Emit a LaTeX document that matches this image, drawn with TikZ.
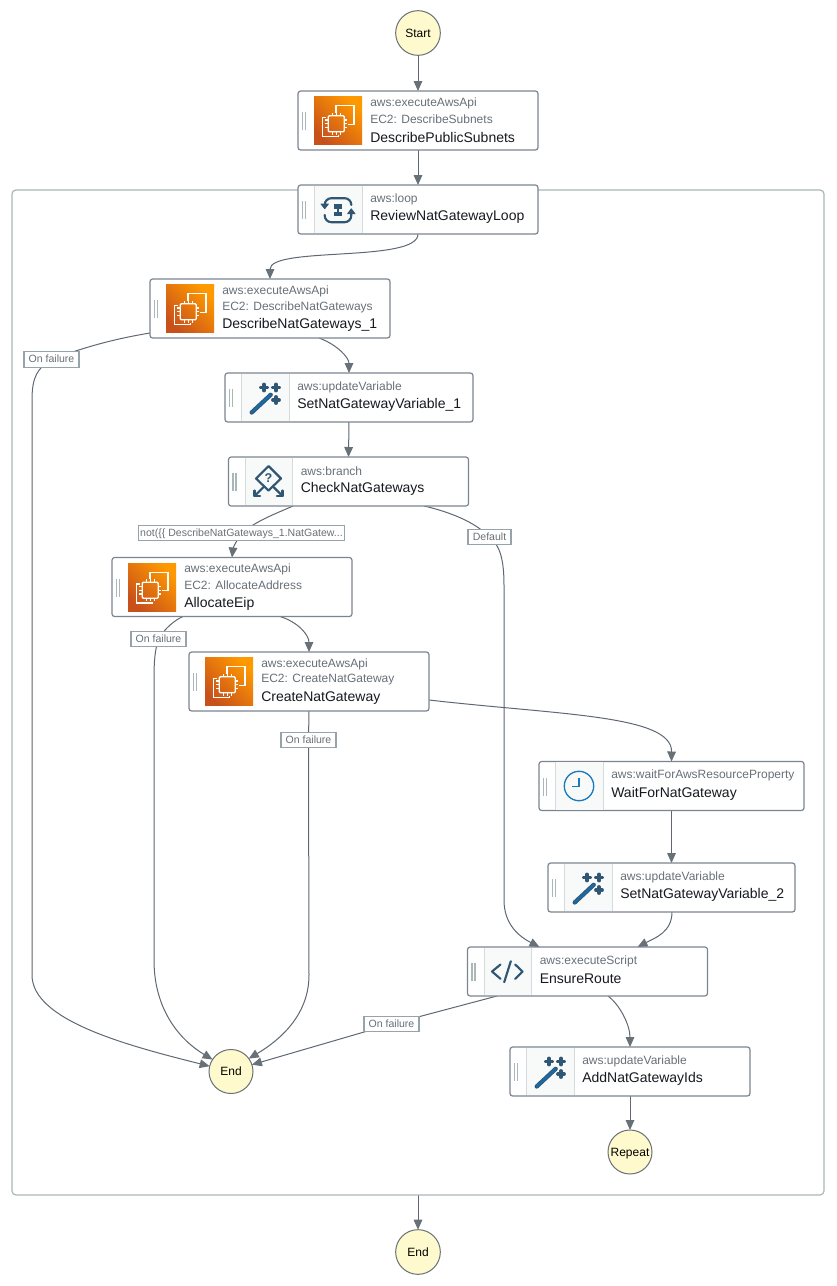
\documentclass[tikz,border=0pt]{standalone}
\usepackage{fontspec}
\setmainfont{Liberation Sans}
\usetikzlibrary{calc,arrows.meta,backgrounds}
\definecolor{edgec}{HTML}{5F6872}
\definecolor{headc}{HTML}{687078}
\definecolor{boxc}{HTML}{7B8590}
\definecolor{cellc}{HTML}{F8F9F9}
\definecolor{celle}{HTML}{D5DBDB}
\definecolor{greyt}{HTML}{687078}
\definecolor{darkt}{HTML}{16191F}
\definecolor{yellowc}{HTML}{FFFACD}
\definecolor{groupc}{HTML}{AAB7B8}
\definecolor{labelc}{HTML}{97A3AB}
\definecolor{iconc}{HTML}{2F5773}
\definecolor{wandc}{HTML}{1B6AA5}
\definecolor{clockc}{HTML}{1A7ABB}
\definecolor{orA}{HTML}{C8511B}
\definecolor{orB}{HTML}{FF9900}
\pgfdeclarelayer{edgelayer}
\pgfdeclarelayer{paper}
\pgfsetlayers{paper,edgelayer,main}
\tikzset{
  stepbox/.style={draw=boxc,fill=white,line width=0.9pt,rounded corners=2pt,inner sep=0,outer sep=0,anchor=north west},
  typetext/.style={anchor=west,inner sep=0,text=greyt,font=\fontsize{9}{11}\selectfont},
  nametext/.style={anchor=west,inner sep=0,text=darkt,font=\fontsize{10.5}{12}\selectfont},
  termnode/.style={circle,draw=headc,fill=yellowc,line width=0.75pt,inner sep=0,outer sep=0,text=black,text height=6.6pt,text depth=0pt,font=\fontsize{9}{11}\selectfont},
  edgelabel/.style={draw=labelc,fill=white,line width=0.9pt,inner sep=0,outer sep=0,text=greyt,text height=6pt,text depth=1.5pt,font=\fontsize{7.9}{10}\selectfont},
  conn/.style={draw=edgec,line width=0.75pt,-{Triangle[length=7.5pt,width=6.5pt,fill=headc,color=headc]}},
  iconline/.style={draw=iconc,line width=1.6pt,line cap=round,line join=round},
  chipline/.style={draw=white,line width=1pt},
  handle/.style={draw=groupc,line width=0.8pt},
}
% chip icon, origin at centre of the 48 px tile
\newcommand\chipicon{%
  \fill[left color=orA,right color=orB,shading angle=135] (-24,-24) rectangle (24,24);
  \draw[chipline] (-2,-8) -- (-2,-14.7) -- (16,-14.7) -- (16,3.7) -- (9.5,3.7);
  \draw[chipline] (-12.5,-3) -- (-15.7,-3) -- (-15.7,16) -- (0.3,16) -- (0.3,14.5);
  \draw[chipline,rounded corners=0.8pt] (-9.7,-4.7) rectangle (6.3,11.3);
  \foreach \t in {-5.7,-1.7,2.3}{
    \draw[chipline] (\t,-4.7) -- (\t,-7.7);
    \draw[chipline] (\t,11.3) -- (\t,14.3);
  }
  \foreach \t in {-0.5,3.3,7.1}{
    \draw[chipline] (-9.7,\t) -- (-12.7,\t);
    \draw[chipline] (6.3,\t) -- (9.3,\t);
  }
}
\newcommand\wandicon{%
  \draw[draw=iconc,line width=3.2pt,line cap=round] (-13.3,15) -- (5.7,-2.7);
  \draw[draw=wandc,line width=1.8pt,line cap=round] (-13.3,15) -- (5.7,-2.7);
  \foreach \a/\b in {-1/-10,11/-10,11/2.5}{
    \draw[draw=iconc,line width=2.9pt,line cap=round] (\a-3,\b) -- (\a+3,\b);
    \draw[draw=iconc,line width=2.9pt,line cap=round] (\a,\b-3) -- (\a,\b+3);
  }
}
\newcommand\loopicon{%
  \draw[iconline,rounded corners=5pt] (-13.3,-3) -- (-13.3,-11.3) -- (13.3,-11.3) -- (13.3,-5.5);
  \draw[iconline,rounded corners=5pt] (13.3,3) -- (13.3,12.7) -- (-13.3,12.7) -- (-13.3,5.5);
  \fill[iconc,draw=iconc,line width=0.6pt,line join=round] (-13.3,-0.8) -- (-17,-5.5) -- (-9.6,-5.5) -- cycle;
  \fill[iconc,draw=iconc,line width=0.6pt,line join=round] (13.3,-0.7) -- (9.6,4.3) -- (17,4.3) -- cycle;
  \fill[iconc] (-4,-5.7) rectangle (4,-0.7);
  \fill[iconc] (-4,2) rectangle (4,6.9);
  \draw[iconc,line width=1pt] (0,-0.7) -- (0,2);
}
\newcommand\branchicon{%
  \draw[iconline] (0,-15.5) -- (12.5,-3) -- (0,9) -- (-12.5,-3) -- cycle;
  \draw[iconline] (-5,5.5) -- (-14,14.5);
  \draw[iconline] (-14,9) -- (-14,14.5) -- (-8.5,14.5);
  \draw[iconline] (5,5.5) -- (14,14.5);
  \draw[iconline] (14,9) -- (14,14.5) -- (8.5,14.5);
  \node[inner sep=0,text=iconc,font=\bfseries\fontsize{9.5}{10}\selectfont] (q\stepname) at (0,-3) {?};
}
\newcommand\clockicon{%
  \draw[draw=clockc,line width=1pt] (0,0) circle (14.7);
  \draw[draw=clockc,line width=1pt] (0,-8.5) -- (0,0.5) -- (-7,0.5);
}
\newcommand\codeicon{%
  \draw[iconline] (-7,-7) -- (-15.5,0) -- (-7,7.3);
  \draw[iconline] (7.7,-7) -- (15,0) -- (7.7,7.3);
  \draw[iconline] (3.3,-10.3) -- (-3.3,10.7);
}
% tall step: name,x,y,w,type,sub,title
\newcommand\tallstep[7]{%
  \def\stepname{#1}%
  \node[stepbox,minimum width=#4*0.75pt,minimum height=44.25pt] (#1) at (#2,#3) {};
  \begin{scope}[shift={(#1.north west)}]
    \draw[handle] (4.5,21) -- (4.5,39) (7.5,21) -- (7.5,39);
    \begin{scope}[shift={(40,29.5)}]\chipicon\end{scope}
    \node[typetext] (#1-type) at (72,12) {#5};
    \node[typetext] (#1-sub) at (72,28) {#6};
    \node[nametext] (#1-name) at (72,46) {#7};
  \end{scope}
}
% short step: name,x,y,w,icon,type,title
\newcommand\shortstep[7]{%
  \def\stepname{#1}%
  \node[stepbox,minimum width=#4*0.75pt,minimum height=36.75pt] (#1) at (#2,#3) {};
  \begin{scope}[shift={(#1.north west)}]
    \draw[handle] (4.5,16) -- (4.5,34) (7.5,16) -- (7.5,34);
    \fill[cellc] (16.5,0.6) rectangle (64,48.4);
    \draw[draw=celle,line width=0.6pt] (16.5,0.6) -- (16.5,48.4) (64,0.6) -- (64,48.4);
    \begin{scope}[shift={(40,24.5)}]#5\end{scope}
    \node[typetext] (#1-type) at (72,14) {#6};
    \node[nametext] (#1-name) at (72,32) {#7};
  \end{scope}
}
\begin{document}
\begin{tikzpicture}[x=0.75pt,y=-0.75pt]
\useasboundingbox (0,0) rectangle (836,1286);
\begin{pgfonlayer}{paper}\fill[white] (0,0) rectangle (836,1286);\end{pgfonlayer}

\node[draw=groupc,line width=0.9pt,rounded corners=3pt,inner sep=0,outer sep=0,minimum width=609pt,minimum height=753.75pt,anchor=north west] (group) at (12,190) {};

\node[termnode,minimum size=33.5pt] (start) at (418,33) {Start};
\tallstep{dps}{298}{91}{240}{aws:executeAwsApi}{EC2: DescribeSubnets}{DescribePublicSubnets}
\shortstep{loop}{298}{185}{240}{\loopicon}{aws:loop}{ReviewNatGatewayLoop}
\tallstep{dng}{150}{279}{240}{aws:executeAwsApi}{EC2: DescribeNatGateways}{DescribeNatGateways\_1}
\shortstep{setone}{225}{373}{248}{\wandicon}{aws:updateVariable}{SetNatGatewayVariable\_1}
\shortstep{check}{228.5}{457}{240}{\branchicon}{aws:branch}{CheckNatGateways}
\tallstep{alloc}{112}{557.5}{240}{aws:executeAwsApi}{EC2: AllocateAddress}{AllocateEip}
\tallstep{create}{189}{652}{240}{aws:executeAwsApi}{EC2: CreateNatGateway}{CreateNatGateway}
\shortstep{wait}{539}{761.5}{265}{\clockicon}{aws:waitForAwsResourceProperty}{WaitForNatGateway}
\shortstep{settwo}{548}{863}{247}{\wandicon}{aws:updateVariable}{SetNatGatewayVariable\_2}
\shortstep{ensure}{467.5}{947}{240}{\codeicon}{aws:executeScript}{EnsureRoute}
\shortstep{addids}{510}{1047}{240}{\wandicon}{aws:updateVariable}{AddNatGatewayIds}
\node[termnode,minimum size=33pt] (endin) at (231,1071.5) {End};
\node[termnode,minimum size=33pt] (repeat) at (630,1152) {Repeat};
\node[termnode,minimum size=33.5pt] (endout) at (418,1252) {End};

\node[edgelabel,minimum width=41.25pt,minimum height=11.5pt] (fone) at (51.5,359.5) {On failure};
\node[edgelabel,minimum width=155pt,minimum height=11.5pt] (notl) at (241.5,533) {not(\{\{ DescribeNatGateways\_1.NatGatew...};
\node[edgelabel,minimum width=32.25pt,minimum height=11.5pt] (defl) at (489.5,537) {Default};
\node[edgelabel,minimum width=41.25pt,minimum height=11.5pt] (ftwo) at (158.5,639) {On failure};
\node[edgelabel,minimum width=41.25pt,minimum height=11.5pt] (fthree) at (308.5,740) {On failure};
\node[edgelabel,minimum width=41.25pt,minimum height=11.5pt] (ffour) at (391.5,1024) {On failure};

\begin{pgfonlayer}{edgelayer}
\draw[conn] (start.south) -- (dps.north);
\draw[conn] (dps.south) -- (loop.north);
\draw[conn] (loop.south) .. controls (418,263) and (270,246) .. (dng.north);
\draw[conn] ($(dng.south)+(49,0)$) .. controls (338,345) and (349,358) .. (setone.north);
\draw[conn] (dng.south west|-0,333) .. controls (120,338) and (90,345) .. (fone.center) .. controls (38,368) and (32,376) .. (32,400) -- (32,975) .. controls (32,1020) and (125,1045) .. (endin.166);
\draw[conn] (setone.south) -- (check.north);
\draw[conn] ($(check.south)+(-55.5,0)$) .. controls (275,514) and (258,520) .. (notl.center) .. controls (237,540) and (233,548) .. (alloc.north);
\draw[conn] ($(check.south)+(75.5,0)$) .. controls (450,512) and (475,522) .. (defl.center) .. controls (500,545) and (504,560) .. (504,585) -- (504,900) .. controls (504,925) and (520,937) .. ($(ensure.north)+(-48,0)$);
\draw[conn] ($(alloc.south)+(-49,0)$) .. controls (175,620) and (165,628) .. (ftwo.center) .. controls (155,650) and (154,660) .. (154,680) -- (154,960) .. controls (154,1010) and (180,1040) .. (endin.147);
\draw[conn] ($(alloc.south)+(48,0)$) .. controls (298,622) and (309,635) .. (create.north);
\draw[conn] (create.south) -- (fthree.center) -- (309,975) .. controls (309,1015) and (280,1040) .. (endin.36);
\draw[conn] (create.east|-0,700) .. controls (560,715) and (672,715) .. (wait.north);
\draw[conn] (wait.south) -- (settwo.north);
\draw[conn] ($(settwo.south)+(0.5,0)$) .. controls (672,932) and (655,938) .. ($(ensure.north)+(50,0)$);
\draw[conn] ($(ensure.south)+(20.5,0)$) .. controls (620,1005) and (630,1025) .. (addids.north);
\draw[conn] ($(ensure.south)+(-90.5,0)$) -- (ffour.center) -- (endin.18);
\draw[conn] (addids.south) -- (repeat.north);
\draw[conn] (group.south) -- (endout.north);
\end{pgfonlayer}
\end{tikzpicture}
\end{document}
